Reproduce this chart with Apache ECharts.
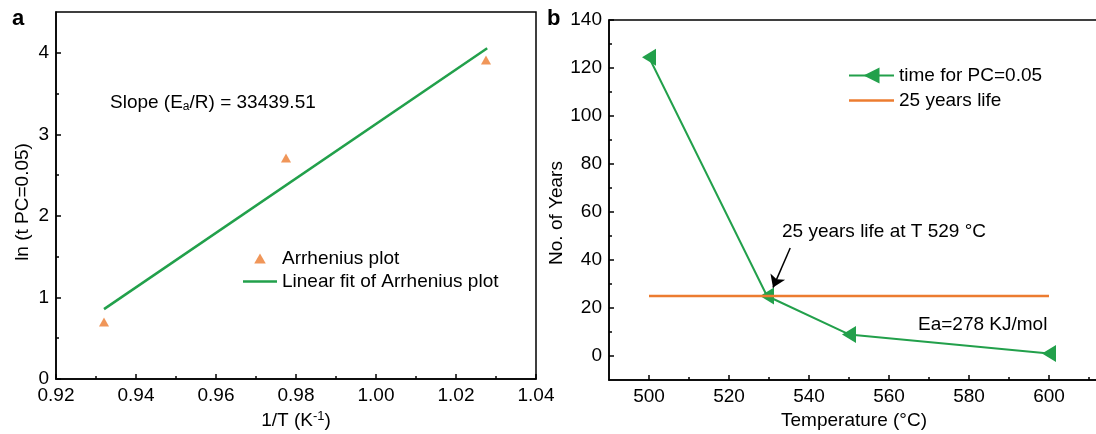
<!DOCTYPE html>
<html>
<head>
<meta charset="utf-8">
<script src="https://cdn.jsdelivr.net/npm/echarts@6/dist/echarts.min.js"></script>
<style>
html,body{margin:0;padding:0;background:#fff;}
#chart{width:1096px;height:434px;}
</style>
</head>
<body>
<div id="chart"></div>
<script>
// ---- Panel a data ----
var arrX = [0.932, 0.9775, 1.0275];
var arrY = [0.70, 2.71, 3.91];
var fitX = [0.932, 1.0278];
var fitY = [0.857, 4.055];
var aXTicks = [0.92, 0.94, 0.96, 0.98, 1.00, 1.02, 1.04];
var aXMinor = [0.93, 0.95, 0.97, 0.99, 1.01, 1.03];
var aYTicks = [0, 1, 2, 3, 4];
var aYMinor = [0.5, 1.5, 2.5, 3.5];

// ---- Panel b data ----
var temps = [500, 529.5, 550, 600];
var years = [124.5, 25, 9, 1];
var lifeX = [500, 600];
var lifeY = [25, 25];
var bXTicks = [500, 520, 540, 560, 580, 600];
var bXMinor = [510, 530, 550, 570, 590, 610];
var bYTicks = [0, 20, 40, 60, 80, 100, 120, 140];
var bYMinor = [10, 30, 50, 70, 90, 110, 130];
var arrowFrom = [535.3, 45];
var arrowTo = [531, 28.5];

var GREEN = '#22a04b';
var ORANGE = '#ec7c30';
var FONT = '"Liberation Sans", Arial, sans-serif';
var FS = 19;

function zip(a, b) { return a.map(function (v, i) { return [v, b[i]]; }); }

var chart = echarts.init(document.getElementById('chart'), null, {renderer: 'canvas'});

var lbl = {color: '#000', fontSize: FS, fontFamily: FONT};
function majorAxis(o) {
  var base = {
    type: 'value', gridIndex: o.grid, min: o.min, max: o.max, position: o.position,
    axisLine: {show: true, onZero: false, lineStyle: {color: '#000', width: 1.5}},
    axisTick: {show: true, inside: true, length: 5, lineStyle: {color: '#000', width: 1.5}, customValues: o.ticks},
    axisLabel: Object.assign({show: true, margin: 7, customValues: o.ticks, formatter: o.fmt}, lbl),
    splitLine: {show: false}
  };
  if (o.name) {
    base.name = o.name;
    base.nameLocation = 'middle';
    base.nameGap = o.nameGap;
    base.nameTextStyle = {color: '#000', fontSize: FS, fontFamily: FONT, padding: o.namePad || 0, rich: o.rich || {}};
  }
  return base;
}
function minorAxis(o) {
  return {
    type: 'value', gridIndex: o.grid, min: o.min, max: o.max, position: o.position,
    axisLine: {show: false, onZero: false},
    axisTick: {show: true, inside: true, length: 3, lineStyle: {color: '#000', width: 1.5}, customValues: o.ticks},
    axisLabel: {show: false},
    splitLine: {show: false}
  };
}

var option = {
  animation: false,
  backgroundColor: '#fff',
  textStyle: {fontFamily: FONT},
  grid: [
    {left: 56, top: 12, width: 480, height: 367, show: true, borderColor: '#000', borderWidth: 1.5, containLabel: false, outerBoundsMode: 'none'},
    {left: 609, top: 20, width: 520, height: 360, show: true, borderColor: '#000', borderWidth: 1.5, containLabel: false, outerBoundsMode: 'none'}
  ],
  xAxis: [
    majorAxis({grid: 0, min: 0.92, max: 1.04, position: 'bottom', ticks: aXTicks,
      fmt: function (v) { return v.toFixed(2); },
      name: '1/T (K{sup|-1})', nameGap: 29,
      rich: {sup: {fontSize: 13, fontFamily: FONT, color: '#000', padding: [0, 0, 9, 0]}}}),
    minorAxis({grid: 0, min: 0.92, max: 1.04, position: 'bottom', ticks: aXMinor}),
    majorAxis({grid: 1, min: 490, max: 620, position: 'bottom', ticks: bXTicks,
      fmt: function (v) { return String(v); },
      name: 'Temperature (°C)', nameGap: 26, namePad: [0, 30, 0, 0]}),
    minorAxis({grid: 1, min: 490, max: 620, position: 'bottom', ticks: bXMinor})
  ],
  yAxis: [
    majorAxis({grid: 0, min: 0, max: 4.5, position: 'left', ticks: aYTicks,
      fmt: function (v) { return String(v); },
      name: 'ln (t PC=0.05)', nameGap: 24, namePad: [0, 13, 0, 0]}),
    minorAxis({grid: 0, min: 0, max: 4.5, position: 'left', ticks: aYMinor}),
    majorAxis({grid: 1, min: -10, max: 140, position: 'left', ticks: bYTicks,
      fmt: function (v) { return String(v); },
      name: 'No. of Years', nameGap: 34, namePad: [0, 26, 0, 0]}),
    minorAxis({grid: 1, min: -10, max: 140, position: 'left', ticks: bYMinor})
  ],
  legend: [
    {
      left: 243, top: 249, orient: 'vertical', padding: 0, itemGap: 4,
      itemWidth: 34, itemHeight: 10, symbolKeepAspect: true,
      textStyle: {color: '#000', fontSize: FS, fontFamily: FONT},
      data: [
        {name: 'Arrhenius plot', icon: 'path://M5,0L10,8.66L0,8.66Z'},
        {name: 'Linear fit of Arrhenius plot', icon: 'path://M0,0H34V2.5H0Z'}
      ]
    },
    {
      left: 848, top: 66, orient: 'vertical', padding: 0, itemGap: 6,
      itemWidth: 45, itemHeight: 20,
      textStyle: {color: '#000', fontSize: FS, fontFamily: FONT},
      data: [
        {name: 'time for PC=0.05'},
        {name: '25 years life', icon: 'path://M0,0H45V2.5H0Z'}
      ]
    }
  ],
  series: [
    {
      name: 'Arrhenius plot', type: 'scatter', xAxisIndex: 0, yAxisIndex: 0,
      symbol: 'triangle', symbolSize: [10, 9],
      itemStyle: {color: ORANGE},
      data: zip(arrX, arrY), z: 3
    },
    {
      name: 'Linear fit of Arrhenius plot', type: 'line', xAxisIndex: 0, yAxisIndex: 0,
      showSymbol: false, symbol: 'none',
      lineStyle: {color: GREEN, width: 2.5}, itemStyle: {color: GREEN},
      data: zip(fitX, fitY), z: 2
    },
    {
      name: 'time for PC=0.05', type: 'line', xAxisIndex: 2, yAxisIndex: 2,
      symbol: 'triangle', symbolSize: [17, 14], symbolRotate: 90,
      lineStyle: {color: GREEN, width: 2}, itemStyle: {color: GREEN},
      data: zip(temps, years), z: 2,
      markLine: {
        silent: true, symbol: ['none', 'arrow'], symbolSize: 12,
        lineStyle: {color: '#000', width: 1.5, type: 'solid'},
        label: {show: false},
        data: [[{coord: arrowFrom}, {coord: arrowTo}]]
      }
    },
    {
      name: '25 years life', type: 'line', xAxisIndex: 2, yAxisIndex: 2,
      showSymbol: false, symbol: 'none',
      lineStyle: {color: ORANGE, width: 2.5}, itemStyle: {color: ORANGE},
      data: zip(lifeX, lifeY), z: 3
    }
  ],
  graphic: [
    {type: 'text', left: 12, top: 8, style: {text: 'a', fontSize: 22, fontWeight: 'bold', fontFamily: FONT, fill: '#000'}},
    {type: 'text', left: 547, top: 8, style: {text: 'b', fontSize: 22, fontWeight: 'bold', fontFamily: FONT, fill: '#000'}},
    {type: 'text', left: 110, top: 93, style: {
      text: 'Slope (E{sub|a}/R) = 33439.51', fontSize: FS, fontFamily: FONT, fill: '#000',
      rich: {sub: {fontSize: 12, fontFamily: FONT, fill: '#000', padding: [8, 0, 0, 0]}}
    }},
    {type: 'text', left: 782, top: 222, style: {text: '25 years life at T 529 °C', fontSize: FS, fontFamily: FONT, fill: '#000'}},
    {type: 'text', left: 918, top: 315, style: {text: 'Ea=278 KJ/mol', fontSize: FS, fontFamily: FONT, fill: '#000'}}
  ]
};
chart.setOption(option);
</script>
</body>
</html>
